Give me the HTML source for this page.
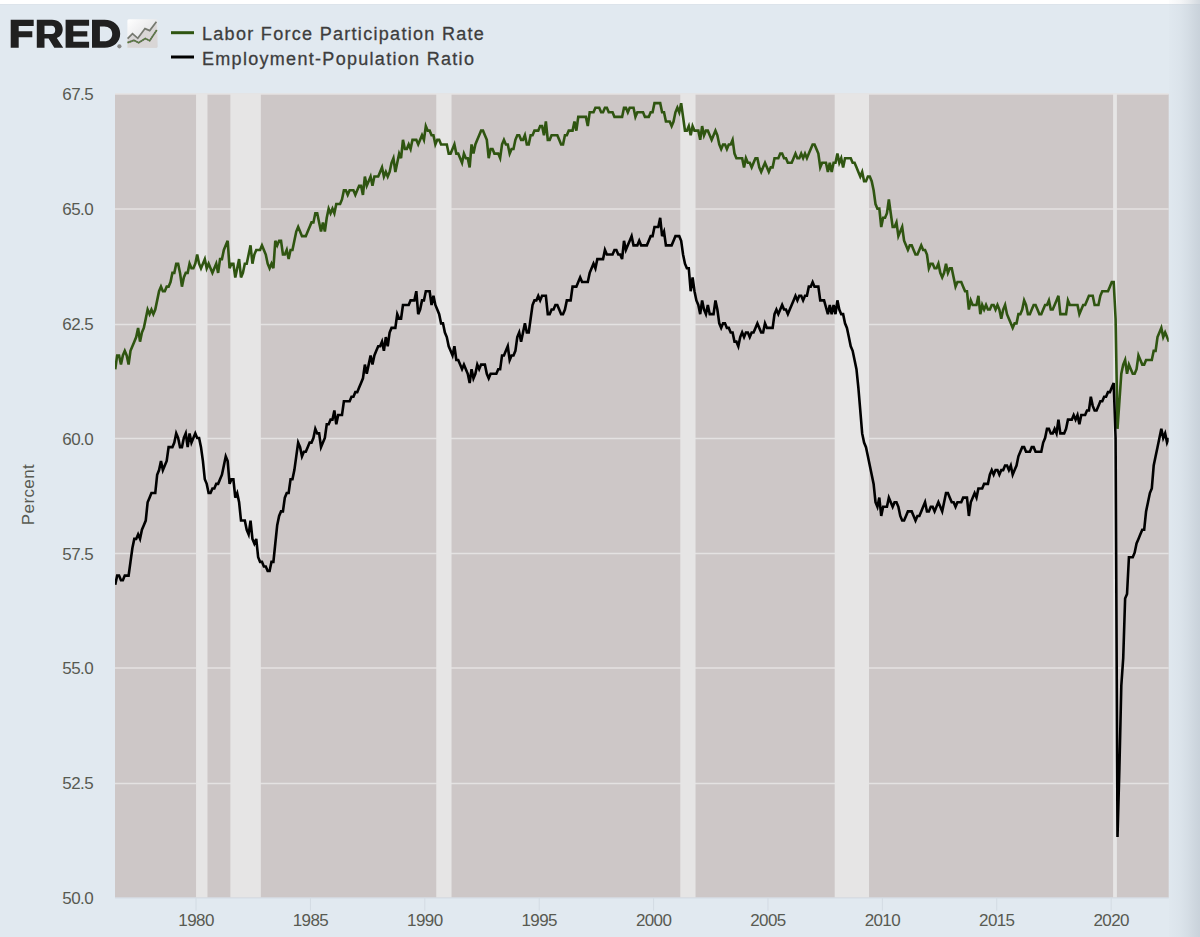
<!DOCTYPE html>
<html><head><meta charset="utf-8"><style>
html,body{margin:0;padding:0;}
body{width:1200px;height:937px;overflow:hidden;background:#e1e9f0;position:relative;font-family:"Liberation Sans",sans-serif;}
#top{position:absolute;left:0;top:0;width:1200px;height:4px;background:#ffffff;border-bottom:1px solid #dde4eb;}
#edge{position:absolute;left:1169px;top:0;width:31px;height:937px;z-index:5;background:linear-gradient(to right,rgba(190,199,208,0.04) 0%,rgba(190,199,208,0.16) 35%,rgba(190,199,208,0.35) 62%,rgba(190,199,208,0.55) 84%,rgba(190,199,208,0.68) 100%);}
svg{position:absolute;left:0;top:0;}
.ax text{font-family:"Liberation Sans",sans-serif;font-size:17px;fill:#585a52;letter-spacing:-0.6px;}
.pc{letter-spacing:0.4px !important;}
.leg text{font-family:"Liberation Sans",sans-serif;font-size:18px;fill:#3d3d3d;stroke:#3d3d3d;stroke-width:0.3px;letter-spacing:1.3px;}
</style></head><body>
<div id="top"></div>
<svg width="1200" height="937" viewBox="0 0 1200 937">
<rect x="115.0" y="94.00" width="1053.70" height="803.60" fill="#cdc7c7"/>
<line x1="115.0" x2="1168.7" y1="783.5" y2="783.5" stroke="#e4e2e2" stroke-width="1.3"/><line x1="115.0" x2="1168.7" y1="668" y2="668" stroke="#e4e2e2" stroke-width="1.3"/><line x1="115.0" x2="1168.7" y1="553.5" y2="553.5" stroke="#e4e2e2" stroke-width="1.3"/><line x1="115.0" x2="1168.7" y1="438.5" y2="438.5" stroke="#e4e2e2" stroke-width="1.3"/><line x1="115.0" x2="1168.7" y1="324.5" y2="324.5" stroke="#e4e2e2" stroke-width="1.3"/><line x1="115.0" x2="1168.7" y1="209" y2="209" stroke="#e4e2e2" stroke-width="1.3"/><line x1="115.0" x2="1168.7" y1="94" y2="94" stroke="#e4e2e2" stroke-width="1.3"/>
<rect x="196.04" y="94.00" width="11.44" height="803.60" fill="#e6e5e5"/><rect x="230.36" y="94.00" width="30.50" height="803.60" fill="#e6e5e5"/><rect x="436.26" y="94.00" width="15.25" height="803.60" fill="#e6e5e5"/><rect x="680.29" y="94.00" width="15.25" height="803.60" fill="#e6e5e5"/><rect x="834.72" y="94.00" width="34.32" height="803.60" fill="#e6e5e5"/><rect x="1113.07" y="94.00" width="3.81" height="803.60" fill="#e6e5e5"/>
<line x1="196.04" x2="196.04" y1="897.60" y2="910.7" stroke="#d3dbe3" stroke-width="1"/><line x1="310.43" x2="310.43" y1="897.60" y2="910.7" stroke="#d3dbe3" stroke-width="1"/><line x1="424.82" x2="424.82" y1="897.60" y2="910.7" stroke="#d3dbe3" stroke-width="1"/><line x1="539.21" x2="539.21" y1="897.60" y2="910.7" stroke="#d3dbe3" stroke-width="1"/><line x1="653.60" x2="653.60" y1="897.60" y2="910.7" stroke="#d3dbe3" stroke-width="1"/><line x1="767.99" x2="767.99" y1="897.60" y2="910.7" stroke="#d3dbe3" stroke-width="1"/><line x1="882.38" x2="882.38" y1="897.60" y2="910.7" stroke="#d3dbe3" stroke-width="1"/><line x1="996.77" x2="996.77" y1="897.60" y2="910.7" stroke="#d3dbe3" stroke-width="1"/><line x1="1111.16" x2="1111.16" y1="897.60" y2="910.7" stroke="#d3dbe3" stroke-width="1"/><line x1="115.0" x2="1168.7" y1="898" y2="898" stroke="#d3dbe3" stroke-width="1"/>
<defs><clipPath id="pc"><rect x="115" y="60" width="1053.7" height="840"/></clipPath></defs>
<g clip-path="url(#pc)">
<path d="M115.25,369.20 L117.16,355.43 L119.06,355.43 L120.97,364.61 L122.87,355.43 L124.78,350.85 L126.68,355.43 L128.59,364.61 L130.49,350.85 L132.40,346.26 L134.30,341.67 L136.21,337.09 L138.12,327.91 L140.02,341.67 L141.93,332.50 L143.83,327.91 L145.74,318.74 L147.64,309.56 L149.55,314.15 L151.45,309.56 L153.36,314.15 L155.26,309.56 L157.17,300.39 L159.07,291.22 L160.98,286.63 L162.89,291.22 L164.79,291.22 L166.70,286.63 L168.60,286.63 L170.51,282.04 L172.41,272.87 L174.32,272.87 L176.22,263.69 L178.13,263.69 L180.03,272.87 L181.94,286.63 L183.84,277.46 L185.75,272.87 L187.66,272.87 L189.56,263.69 L191.47,268.28 L193.37,268.28 L195.28,263.69 L197.18,254.52 L199.09,263.69 L200.99,268.28 L202.90,263.69 L204.80,259.11 L206.71,268.28 L208.62,263.69 L210.52,268.28 L212.43,272.87 L214.33,268.28 L216.24,263.69 L218.14,272.87 L220.05,259.11 L221.95,259.11 L223.86,249.93 L225.76,245.35 L227.67,240.76 L229.57,268.28 L231.48,263.69 L233.39,263.69 L235.29,277.46 L237.20,268.28 L239.10,259.11 L241.01,277.46 L242.91,272.87 L244.82,263.69 L246.72,263.69 L248.63,254.52 L250.53,245.35 L252.44,263.69 L254.35,254.52 L256.25,249.93 L258.16,249.93 L260.06,249.93 L261.97,245.35 L263.87,249.93 L265.78,254.52 L267.68,263.69 L269.59,268.28 L271.49,263.69 L273.40,268.28 L275.30,240.76 L277.21,245.35 L279.12,240.76 L281.02,240.76 L282.93,254.52 L284.83,254.52 L286.74,249.93 L288.64,259.11 L290.55,249.93 L292.45,249.93 L294.36,240.76 L296.26,231.59 L298.17,227.00 L300.08,231.59 L301.98,236.17 L303.89,236.17 L305.79,236.17 L307.70,231.59 L309.60,227.00 L311.51,222.41 L313.41,222.41 L315.32,213.24 L317.22,213.24 L319.13,222.41 L321.03,231.59 L322.94,222.41 L324.85,231.59 L326.75,217.82 L328.66,208.65 L330.56,213.24 L332.47,208.65 L334.37,213.24 L336.28,204.06 L338.18,204.06 L340.09,204.06 L341.99,199.48 L343.90,190.30 L345.81,190.30 L347.71,194.89 L349.62,190.30 L351.52,190.30 L353.43,190.30 L355.33,194.89 L357.24,190.30 L359.14,185.72 L361.05,185.72 L362.95,194.89 L364.86,176.54 L366.76,185.72 L368.67,181.13 L370.58,176.54 L372.48,185.72 L374.39,176.54 L376.29,176.54 L378.20,176.54 L380.10,171.95 L382.01,167.37 L383.91,176.54 L385.82,171.95 L387.72,176.54 L389.63,171.95 L391.54,162.78 L393.44,158.19 L395.35,171.95 L397.25,162.78 L399.16,153.61 L401.06,158.19 L402.97,139.85 L404.87,149.02 L406.78,149.02 L408.68,144.43 L410.59,149.02 L412.49,139.85 L414.40,139.85 L416.31,139.85 L418.21,144.43 L420.12,139.85 L422.02,135.26 L423.93,139.85 L425.83,126.08 L427.74,130.67 L429.64,130.67 L431.55,135.26 L433.45,135.26 L435.36,144.43 L437.27,139.85 L439.17,139.85 L441.08,144.43 L442.98,144.43 L444.89,144.43 L446.79,144.43 L448.70,153.61 L450.60,153.61 L452.51,149.02 L454.41,144.43 L456.32,153.61 L458.22,153.61 L460.13,158.19 L462.04,162.78 L463.94,153.61 L465.85,158.19 L467.75,158.19 L469.66,167.37 L471.56,144.43 L473.47,153.61 L475.37,144.43 L477.28,139.85 L479.18,135.26 L481.09,130.67 L483.00,130.67 L484.90,135.26 L486.81,139.85 L488.71,158.19 L490.62,149.02 L492.52,149.02 L494.43,153.61 L496.33,153.61 L498.24,153.61 L500.14,158.19 L502.05,144.43 L503.95,139.85 L505.86,144.43 L507.77,144.43 L509.67,153.61 L511.58,149.02 L513.48,149.02 L515.39,139.85 L517.29,135.26 L519.20,135.26 L521.10,139.85 L523.01,139.85 L524.91,135.26 L526.82,144.43 L528.73,144.43 L530.63,135.26 L532.54,135.26 L534.44,130.67 L536.35,130.67 L538.25,130.67 L540.16,126.08 L542.06,126.08 L543.97,135.26 L545.87,121.50 L547.78,139.85 L549.68,139.85 L551.59,135.26 L553.50,135.26 L555.40,135.26 L557.31,135.26 L559.21,139.85 L561.12,144.43 L563.02,144.43 L564.93,135.26 L566.83,135.26 L568.74,130.67 L570.64,130.67 L572.55,130.67 L574.46,121.50 L576.36,130.67 L578.27,116.91 L580.17,116.91 L582.08,116.91 L583.98,116.91 L585.89,116.91 L587.79,126.08 L589.70,112.32 L591.60,112.32 L593.51,112.32 L595.41,107.74 L597.32,107.74 L599.23,107.74 L601.13,112.32 L603.04,112.32 L604.94,107.74 L606.85,107.74 L608.75,112.32 L610.66,112.32 L612.56,112.32 L614.47,116.91 L616.37,116.91 L618.28,116.91 L620.19,116.91 L622.09,116.91 L624.00,107.74 L625.90,107.74 L627.81,112.32 L629.71,107.74 L631.62,107.74 L633.52,107.74 L635.43,116.91 L637.33,112.32 L639.24,112.32 L641.14,112.32 L643.05,112.32 L644.96,116.91 L646.86,116.91 L648.77,116.91 L650.67,112.32 L652.58,112.32 L654.48,103.15 L656.39,103.15 L658.29,103.15 L660.20,103.15 L662.10,112.32 L664.01,112.32 L665.92,121.50 L667.82,121.50 L669.73,121.50 L671.63,126.08 L673.54,121.50 L675.44,112.32 L677.35,107.74 L679.25,112.32 L681.16,103.15 L683.06,116.91 L684.97,130.67 L686.87,130.67 L688.78,126.08 L690.69,135.26 L692.59,126.08 L694.50,130.67 L696.40,130.67 L698.31,130.67 L700.21,139.85 L702.12,126.08 L704.02,135.26 L705.93,130.67 L707.83,130.67 L709.74,135.26 L711.65,139.85 L713.55,135.26 L715.46,130.67 L717.36,135.26 L719.27,144.43 L721.17,149.02 L723.08,144.43 L724.98,144.43 L726.89,149.02 L728.79,144.43 L730.70,144.43 L732.60,139.85 L734.51,153.61 L736.42,158.19 L738.32,158.19 L740.23,158.19 L742.13,158.19 L744.04,167.37 L745.94,158.19 L747.85,162.78 L749.75,162.78 L751.66,167.37 L753.56,162.78 L755.47,158.19 L757.38,158.19 L759.28,167.37 L761.19,171.95 L763.09,167.37 L765.00,162.78 L766.90,167.37 L768.81,171.95 L770.71,167.37 L772.62,167.37 L774.52,158.19 L776.43,158.19 L778.33,158.19 L780.24,153.61 L782.15,153.61 L784.05,158.19 L785.96,158.19 L787.86,162.78 L789.77,162.78 L791.67,162.78 L793.58,158.19 L795.48,153.61 L797.39,158.19 L799.29,158.19 L801.20,153.61 L803.11,158.19 L805.01,153.61 L806.92,158.19 L808.82,153.61 L810.73,149.02 L812.63,144.43 L814.54,144.43 L816.44,149.02 L818.35,153.61 L820.25,167.37 L822.16,162.78 L824.06,162.78 L825.97,162.78 L827.88,171.95 L829.78,162.78 L831.69,171.95 L833.59,162.78 L835.50,162.78 L837.40,153.61 L839.31,162.78 L841.21,158.19 L843.12,167.37 L845.02,158.19 L846.93,158.19 L848.84,158.19 L850.74,158.19 L852.65,162.78 L854.55,162.78 L856.46,167.37 L858.36,171.95 L860.27,176.54 L862.17,171.95 L864.08,181.13 L865.98,181.13 L867.89,176.54 L869.79,176.54 L871.70,181.13 L873.61,190.30 L875.51,204.06 L877.42,208.65 L879.32,208.65 L881.23,227.00 L883.13,217.82 L885.04,217.82 L886.94,213.24 L888.85,199.48 L890.75,213.24 L892.66,227.00 L894.57,227.00 L896.47,222.41 L898.38,236.17 L900.28,231.59 L902.19,227.00 L904.09,240.76 L906.00,245.35 L907.90,249.93 L909.81,245.35 L911.71,245.35 L913.62,249.93 L915.52,254.52 L917.43,254.52 L919.34,249.93 L921.24,245.35 L923.15,249.93 L925.05,249.93 L926.96,254.52 L928.86,268.28 L930.77,263.69 L932.67,263.69 L934.58,268.28 L936.48,268.28 L938.39,263.69 L940.30,272.87 L942.20,277.46 L944.11,272.87 L946.01,263.69 L947.92,272.87 L949.82,268.28 L951.73,268.28 L953.63,277.46 L955.54,286.63 L957.44,282.04 L959.35,282.04 L961.25,282.04 L963.16,286.63 L965.07,291.22 L966.97,291.22 L968.88,309.56 L970.78,300.39 L972.69,304.98 L974.59,304.98 L976.50,304.98 L978.40,295.80 L980.31,314.15 L982.21,304.98 L984.12,309.56 L986.03,304.98 L987.93,309.56 L989.84,309.56 L991.74,304.98 L993.65,304.98 L995.55,309.56 L997.46,304.98 L999.36,309.56 L1001.27,318.74 L1003.17,309.56 L1005.08,304.98 L1006.99,314.15 L1008.89,318.74 L1010.80,323.33 L1012.70,327.91 L1014.61,323.33 L1016.51,323.33 L1018.42,314.15 L1020.32,314.15 L1022.23,309.56 L1024.13,300.39 L1026.04,304.98 L1027.94,314.15 L1029.85,314.15 L1031.76,309.56 L1033.66,304.98 L1035.57,304.98 L1037.47,309.56 L1039.38,314.15 L1041.28,314.15 L1043.19,309.56 L1045.09,304.98 L1047.00,304.98 L1048.90,300.39 L1050.81,309.56 L1052.72,309.56 L1054.62,304.98 L1056.53,300.39 L1058.43,295.80 L1060.34,314.15 L1062.24,314.15 L1064.15,314.15 L1066.05,314.15 L1067.96,300.39 L1069.86,304.98 L1071.77,304.98 L1073.67,304.98 L1075.58,304.98 L1077.49,304.98 L1079.39,314.15 L1081.30,309.56 L1083.20,304.98 L1085.11,304.98 L1087.01,300.39 L1088.92,295.80 L1090.82,295.80 L1092.73,295.80 L1094.63,304.98 L1096.54,304.98 L1098.44,304.98 L1100.35,295.80 L1102.26,291.22 L1104.16,291.22 L1106.07,291.22 L1107.97,291.22 L1109.88,286.63 L1111.78,282.04 L1113.69,282.04 L1115.59,318.74 L1117.50,428.83 L1119.40,401.30 L1121.31,373.78 L1123.22,364.61 L1125.12,360.02 L1127.03,373.78 L1128.93,364.61 L1130.84,369.20 L1132.74,373.78 L1134.65,373.78 L1136.55,369.20 L1138.46,355.43 L1140.36,360.02 L1142.27,364.61 L1144.17,364.61 L1146.08,360.02 L1147.99,360.02 L1149.89,360.02 L1151.80,360.02 L1153.70,350.85 L1155.61,350.85 L1157.51,337.09 L1159.42,332.50 L1161.32,327.91 L1163.23,337.09 L1165.13,332.50 L1167.04,337.09 L1168.95,341.67" fill="none" stroke="#2f5511" stroke-width="2.6" stroke-linejoin="miter" stroke-miterlimit="4"/>
<path d="M115.25,584.78 L117.16,575.61 L119.06,575.61 L120.97,580.20 L122.87,580.20 L124.78,575.61 L126.68,575.61 L128.59,575.61 L130.49,561.85 L132.40,548.09 L134.30,538.91 L136.21,538.91 L138.12,534.33 L140.02,538.91 L141.93,529.74 L143.83,525.15 L145.74,520.57 L147.64,502.22 L149.55,497.63 L151.45,493.04 L153.36,493.04 L155.26,493.04 L157.17,474.70 L159.07,470.11 L160.98,460.94 L162.89,470.11 L164.79,465.52 L166.70,460.94 L168.60,447.17 L170.51,447.17 L172.41,447.17 L174.32,442.59 L176.22,433.41 L178.13,438.00 L180.03,447.17 L181.94,447.17 L183.84,438.00 L185.75,433.41 L187.66,447.17 L189.56,433.41 L191.47,442.59 L193.37,438.00 L195.28,433.41 L197.18,438.00 L199.09,438.00 L200.99,447.17 L202.90,460.94 L204.80,479.28 L206.71,483.87 L208.62,493.04 L210.52,493.04 L212.43,488.46 L214.33,488.46 L216.24,483.87 L218.14,483.87 L220.05,479.28 L221.95,474.70 L223.86,465.52 L225.76,456.35 L227.67,460.94 L229.57,483.87 L231.48,479.28 L233.39,479.28 L235.29,497.63 L237.20,493.04 L239.10,502.22 L241.01,520.57 L242.91,520.57 L244.82,520.57 L246.72,529.74 L248.63,534.33 L250.53,520.57 L252.44,538.91 L254.35,543.50 L256.25,538.91 L258.16,557.26 L260.06,561.85 L261.97,561.85 L263.87,566.44 L265.78,566.44 L267.68,571.02 L269.59,571.02 L271.49,561.85 L273.40,561.85 L275.30,543.50 L277.21,525.15 L279.12,515.98 L281.02,511.39 L282.93,511.39 L284.83,497.63 L286.74,493.04 L288.64,493.04 L290.55,479.28 L292.45,479.28 L294.36,470.11 L296.26,456.35 L298.17,442.59 L300.08,447.17 L301.98,456.35 L303.89,451.76 L305.79,451.76 L307.70,447.17 L309.60,442.59 L311.51,442.59 L313.41,438.00 L315.32,428.83 L317.22,433.41 L319.13,433.41 L321.03,447.17 L322.94,442.59 L324.85,438.00 L326.75,424.24 L328.66,424.24 L330.56,419.65 L332.47,419.65 L334.37,410.48 L336.28,424.24 L338.18,415.07 L340.09,415.07 L341.99,415.07 L343.90,401.30 L345.81,401.30 L347.71,401.30 L349.62,401.30 L351.52,396.72 L353.43,396.72 L355.33,392.13 L357.24,392.13 L359.14,387.54 L361.05,382.96 L362.95,378.37 L364.86,364.61 L366.76,373.78 L368.67,364.61 L370.58,355.43 L372.48,364.61 L374.39,355.43 L376.29,350.85 L378.20,346.26 L380.10,346.26 L382.01,341.67 L383.91,350.85 L385.82,337.09 L387.72,346.26 L389.63,332.50 L391.54,327.91 L393.44,327.91 L395.35,327.91 L397.25,314.15 L399.16,318.74 L401.06,318.74 L402.97,304.98 L404.87,304.98 L406.78,304.98 L408.68,304.98 L410.59,300.39 L412.49,300.39 L414.40,300.39 L416.31,291.22 L418.21,314.15 L420.12,309.56 L422.02,300.39 L423.93,300.39 L425.83,291.22 L427.74,291.22 L429.64,291.22 L431.55,304.98 L433.45,295.80 L435.36,304.98 L437.27,309.56 L439.17,314.15 L441.08,323.33 L442.98,323.33 L444.89,332.50 L446.79,337.09 L448.70,346.26 L450.60,350.85 L452.51,355.43 L454.41,346.26 L456.32,360.02 L458.22,360.02 L460.13,364.61 L462.04,369.20 L463.94,364.61 L465.85,369.20 L467.75,373.78 L469.66,382.96 L471.56,369.20 L473.47,378.37 L475.37,373.78 L477.28,364.61 L479.18,369.20 L481.09,364.61 L483.00,364.61 L484.90,364.61 L486.81,373.78 L488.71,378.37 L490.62,373.78 L492.52,373.78 L494.43,373.78 L496.33,373.78 L498.24,369.20 L500.14,369.20 L502.05,355.43 L503.95,355.43 L505.86,350.85 L507.77,346.26 L509.67,360.02 L511.58,355.43 L513.48,355.43 L515.39,350.85 L517.29,337.09 L519.20,332.50 L521.10,341.67 L523.01,332.50 L524.91,323.33 L526.82,332.50 L528.73,332.50 L530.63,318.74 L532.54,304.98 L534.44,300.39 L536.35,300.39 L538.25,295.80 L540.16,300.39 L542.06,295.80 L543.97,295.80 L545.87,295.80 L547.78,314.15 L549.68,314.15 L551.59,309.56 L553.50,309.56 L555.40,304.98 L557.31,304.98 L559.21,309.56 L561.12,314.15 L563.02,314.15 L564.93,309.56 L566.83,300.39 L568.74,300.39 L570.64,300.39 L572.55,286.63 L574.46,286.63 L576.36,286.63 L578.27,282.04 L580.17,277.46 L582.08,282.04 L583.98,282.04 L585.89,282.04 L587.79,282.04 L589.70,272.87 L591.60,268.28 L593.51,263.69 L595.41,268.28 L597.32,259.11 L599.23,259.11 L601.13,259.11 L603.04,259.11 L604.94,249.93 L606.85,254.52 L608.75,254.52 L610.66,254.52 L612.56,254.52 L614.47,249.93 L616.37,249.93 L618.28,254.52 L620.19,254.52 L622.09,259.11 L624.00,240.76 L625.90,249.93 L627.81,245.35 L629.71,240.76 L631.62,236.17 L633.52,245.35 L635.43,245.35 L637.33,245.35 L639.24,240.76 L641.14,245.35 L643.05,245.35 L644.96,245.35 L646.86,245.35 L648.77,240.76 L650.67,236.17 L652.58,236.17 L654.48,227.00 L656.39,227.00 L658.29,227.00 L660.20,217.82 L662.10,236.17 L664.01,231.59 L665.92,245.35 L667.82,245.35 L669.73,245.35 L671.63,245.35 L673.54,240.76 L675.44,236.17 L677.35,236.17 L679.25,236.17 L681.16,240.76 L683.06,254.52 L684.97,263.69 L686.87,268.28 L688.78,268.28 L690.69,291.22 L692.59,277.46 L694.50,291.22 L696.40,300.39 L698.31,304.98 L700.21,314.15 L702.12,300.39 L704.02,309.56 L705.93,314.15 L707.83,304.98 L709.74,314.15 L711.65,314.15 L713.55,314.15 L715.46,300.39 L717.36,309.56 L719.27,323.33 L721.17,327.91 L723.08,323.33 L724.98,323.33 L726.89,327.91 L728.79,327.91 L730.70,332.50 L732.60,332.50 L734.51,341.67 L736.42,341.67 L738.32,346.26 L740.23,337.09 L742.13,332.50 L744.04,337.09 L745.94,332.50 L747.85,332.50 L749.75,337.09 L751.66,332.50 L753.56,332.50 L755.47,327.91 L757.38,323.33 L759.28,327.91 L761.19,332.50 L763.09,332.50 L765.00,323.33 L766.90,327.91 L768.81,327.91 L770.71,327.91 L772.62,327.91 L774.52,314.15 L776.43,309.56 L778.33,314.15 L780.24,309.56 L782.15,304.98 L784.05,309.56 L785.96,309.56 L787.86,314.15 L789.77,309.56 L791.67,304.98 L793.58,300.39 L795.48,295.80 L797.39,300.39 L799.29,295.80 L801.20,295.80 L803.11,300.39 L805.01,295.80 L806.92,295.80 L808.82,286.63 L810.73,286.63 L812.63,282.04 L814.54,286.63 L816.44,286.63 L818.35,286.63 L820.25,300.39 L822.16,300.39 L824.06,300.39 L825.97,307.27 L827.88,314.15 L829.78,304.98 L831.69,314.15 L833.59,304.98 L835.50,314.15 L837.40,300.39 L839.31,309.56 L841.21,314.15 L843.12,314.15 L845.02,323.33 L846.93,327.91 L848.84,337.09 L850.74,346.26 L852.65,350.85 L854.55,360.02 L856.46,369.20 L858.36,387.54 L860.27,410.48 L862.17,433.41 L864.08,442.59 L865.98,447.17 L867.89,456.35 L869.79,465.52 L871.70,474.70 L873.61,483.87 L875.51,502.22 L877.42,506.81 L879.32,497.63 L881.23,515.98 L883.13,506.81 L885.04,506.81 L886.94,506.81 L888.85,497.63 L890.75,502.22 L892.66,506.81 L894.57,502.22 L896.47,502.22 L898.38,506.81 L900.28,515.98 L902.19,520.57 L904.09,520.57 L906.00,515.98 L907.90,511.39 L909.81,511.39 L911.71,511.39 L913.62,515.98 L915.52,520.57 L917.43,515.98 L919.34,515.98 L921.24,511.39 L923.15,506.81 L925.05,502.22 L926.96,511.39 L928.86,511.39 L930.77,506.81 L932.67,506.81 L934.58,511.39 L936.48,506.81 L938.39,502.22 L940.30,506.81 L942.20,511.39 L944.11,502.22 L946.01,493.04 L947.92,493.04 L949.82,497.63 L951.73,502.22 L953.63,502.22 L955.54,506.81 L957.44,502.22 L959.35,502.22 L961.25,502.22 L963.16,497.63 L965.07,497.63 L966.97,497.63 L968.88,515.98 L970.78,502.22 L972.69,497.63 L974.59,493.04 L976.50,497.63 L978.40,488.46 L980.31,488.46 L982.21,488.46 L984.12,483.87 L986.03,483.87 L987.93,483.87 L989.84,474.70 L991.74,470.11 L993.65,474.70 L995.55,470.11 L997.46,470.11 L999.36,474.70 L1001.27,470.11 L1003.17,470.11 L1005.08,465.52 L1006.99,465.52 L1008.89,470.11 L1010.80,465.52 L1012.70,474.70 L1014.61,470.11 L1016.51,465.52 L1018.42,456.35 L1020.32,451.76 L1022.23,447.17 L1024.13,447.17 L1026.04,451.76 L1027.94,451.76 L1029.85,451.76 L1031.76,447.17 L1033.66,447.17 L1035.57,451.76 L1037.47,451.76 L1039.38,451.76 L1041.28,451.76 L1043.19,442.59 L1045.09,438.00 L1047.00,428.83 L1048.90,428.83 L1050.81,433.41 L1052.72,433.41 L1054.62,428.83 L1056.53,433.41 L1058.43,419.65 L1060.34,433.41 L1062.24,433.41 L1064.15,433.41 L1066.05,428.83 L1067.96,419.65 L1069.86,419.65 L1071.77,419.65 L1073.67,415.07 L1075.58,419.65 L1077.49,415.07 L1079.39,424.24 L1081.30,415.07 L1083.20,415.07 L1085.11,415.07 L1087.01,410.48 L1088.92,410.48 L1090.82,396.72 L1092.73,405.89 L1094.63,410.48 L1096.54,410.48 L1098.44,405.89 L1100.35,401.30 L1102.26,401.30 L1104.16,396.72 L1106.07,396.72 L1107.97,392.13 L1109.88,392.13 L1111.78,387.54 L1113.69,382.96 L1115.59,438.00 L1117.50,837.07 L1119.40,768.26 L1121.31,685.70 L1123.22,658.18 L1125.12,598.55 L1127.03,593.96 L1128.93,557.26 L1130.84,557.26 L1132.74,557.26 L1134.65,552.68 L1136.55,543.50 L1138.46,538.91 L1140.36,534.33 L1142.27,529.74 L1144.17,529.74 L1146.08,511.39 L1147.99,502.22 L1149.89,493.04 L1151.80,488.46 L1153.70,465.52 L1155.61,456.35 L1157.51,447.17 L1159.42,438.00 L1161.32,428.83 L1163.23,438.00 L1165.13,433.41 L1167.04,442.59 L1168.95,438.00" fill="none" stroke="#000000" stroke-width="2.6" stroke-linejoin="miter" stroke-miterlimit="4"/>
</g>
<g class="ax"><text x="93" y="904.00" text-anchor="end">50.0</text><text x="93" y="789.20" text-anchor="end">52.5</text><text x="93" y="674.40" text-anchor="end">55.0</text><text x="93" y="559.60" text-anchor="end">57.5</text><text x="93" y="444.80" text-anchor="end">60.0</text><text x="93" y="330.00" text-anchor="end">62.5</text><text x="93" y="215.20" text-anchor="end">65.0</text><text x="93" y="100.40" text-anchor="end">67.5</text><text x="196.04" y="926" text-anchor="middle">1980</text><text x="310.43" y="926" text-anchor="middle">1985</text><text x="424.82" y="926" text-anchor="middle">1990</text><text x="539.21" y="926" text-anchor="middle">1995</text><text x="653.60" y="926" text-anchor="middle">2000</text><text x="767.99" y="926" text-anchor="middle">2005</text><text x="882.38" y="926" text-anchor="middle">2010</text><text x="996.77" y="926" text-anchor="middle">2015</text><text x="1111.16" y="926" text-anchor="middle">2020</text>
<text class="pc" transform="translate(34,494.5) rotate(-90)" text-anchor="middle">Percent</text></g>
<g class="leg">
<line x1="171" x2="194" y1="32.7" y2="32.7" stroke="#2f5511" stroke-width="3"/>
<line x1="171" x2="194" y1="57" y2="57" stroke="#000" stroke-width="3"/>
<text x="202" y="40">Labor Force Participation Rate</text>
<text x="202" y="64.5">Employment-Population Ratio</text>
</g>
<g id="logo" fill="#202020">
<path d="M10.7,19.7 H33.7 V26 H18.7 V31.3 H32.3 V37.3 H18.7 V47.8 H10.7 Z"/>
<path fill-rule="evenodd" d="M36.8,19.7 H52 C58.6,19.7 62.7,23.6 62.7,29.2 C62.7,33.4 60.4,36.6 56.8,37.9 L63.2,47.8 H54.3 L48.6,38.6 H44.5 V47.8 H36.8 Z M44.5,25.8 V34 H51.6 C54,34 55.2,32.3 55.2,29.9 C55.2,27.5 54,25.8 51.6,25.8 Z"/>
<path d="M65.6,19.8 H89.1 V25.7 H73.3 V31.2 H87.3 V36.5 H73.3 V41.8 H89.1 V47.8 H65.6 Z"/>
<path fill-rule="evenodd" d="M92,19.7 H104.5 C113.6,19.7 120.2,25.4 120.2,33.75 C120.2,42.1 113.6,47.8 104.5,47.8 H92 Z M99.9,26.5 V41.3 H104.3 C109,41.3 112.2,38.3 112.2,33.9 C112.2,29.5 109,26.5 104.3,26.5 Z"/>
<circle cx="119.4" cy="46.3" r="2.1" fill="#8a8a88"/>
</g>
<defs><linearGradient id="ig" x1="0" y1="0" x2="1" y2="1"><stop offset="0" stop-color="#ffffff"/><stop offset="0.6" stop-color="#e6e6e8"/><stop offset="1" stop-color="#d4d2d2"/></linearGradient></defs>
<rect x="127.4" y="19.3" width="30.2" height="28.5" rx="1.5" fill="url(#ig)"/>
<path d="M127.4,38.7 L132.5,33.6 L137.8,38.3 L145,28.6 L149.7,30.6 L156.6,21.5 V47.8 H127.4 Z" fill="#d9d6d6"/>
<polyline points="127.6,38.7 132.5,33.6 137.8,38.3 145,28.6 149.7,30.6 156.4,21.7" fill="none" stroke="#767970" stroke-width="1.7"/>
<polyline points="127.6,42.7 133.9,40.3 138.6,42.7 145.3,38.5 149.7,40.7 156.8,30" fill="none" stroke="#6d7168" stroke-width="1.8"/>
<polyline points="127.6,42.7 133.9,40.3 138.6,42.7 145.3,38.5 149.7,40.7 156.8,30" fill="none" stroke="#4f7f2c" stroke-width="1.3" stroke-dasharray="1.4 1"/>
</svg>
<div id="edge"></div>
</body></html>
